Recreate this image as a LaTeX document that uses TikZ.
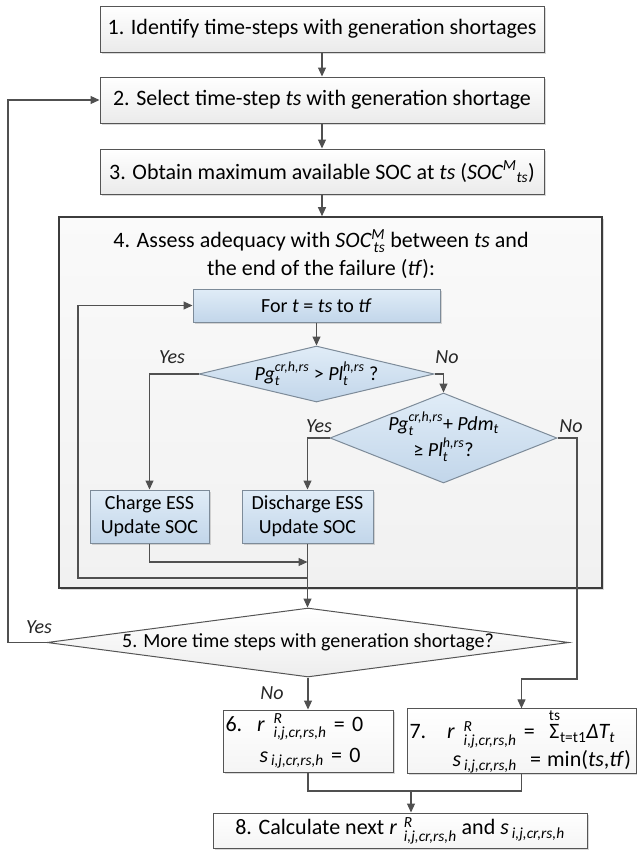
\documentclass[tikz,border=0pt]{standalone}
\usepackage{amsmath}
\usepackage{fontspec}
\setmainfont{Carlito}
\usetikzlibrary{arrows.meta,shapes.geometric,shadows,calc}
\definecolor{ln}{HTML}{505050}
\definecolor{bd}{HTML}{555555}
\definecolor{bdf}{HTML}{3C3C3C}
\definecolor{blt}{HTML}{E0ECF7}
\definecolor{blb}{HTML}{C2D6EA}
\definecolor{bbd}{HTML}{7D8B99}
\newcommand\ii[1]{\text{\itshape #1}}
\newcommand\zw[1]{\makebox[0pt]{#1}}
\tikzset{
  conn/.style={draw=ln, line width=1.1pt},
  arr/.style={conn, -{Triangle[length=9pt,width=8pt]}},
  shad/.style={drop shadow={shadow xshift=1.5pt,shadow yshift=-1.5pt,opacity=0.3}},
  topbox/.style={rectangle, draw=bd, line width=1pt, top color=white, bottom color=gray!16, shad, inner sep=0pt, font=\fontsize{22}{26}\selectfont},
  outerbox/.style={rectangle, draw=bdf, line width=1.6pt, top color=gray!4, bottom color=gray!11, shad, inner sep=0pt},
  bluebox/.style={rectangle, draw=bbd, line width=1pt, top color=blt, bottom color=blb, shad, inner sep=0pt, align=center, font=\fontsize{20}{24}\selectfont},
  bluedia/.style={diamond, draw=bbd, line width=1pt, top color=blt, bottom color=blb, inner sep=0pt, font=\fontsize{20}{24}\selectfont},
  greydia/.style={diamond, draw=bd, line width=1pt, top color=white, bottom color=gray!14, inner sep=0pt, font=\fontsize{20}{24}\selectfont},
  wbox/.style={rectangle, draw=bd, line width=1pt, top color=white, bottom color=gray!8, shad, inner sep=0pt, font=\fontsize{22}{26}\selectfont},
  yn/.style={font=\fontsize{20}{24}\selectfont\itshape, text=black!85, inner sep=0pt},
  ttl/.style={font=\fontsize{22}{28}\selectfont, align=center, inner sep=0pt}
}
\begin{document}
\begin{tikzpicture}[x=1pt,y=-1pt]
\useasboundingbox (0,0) rectangle (637,852);
% top boxes
\node[topbox, minimum width=444pt, minimum height=46pt] (b1) at (322,29) {1. Identify time-steps with generation shortages};
\node[topbox, minimum width=444pt, minimum height=46pt] (b2) at (322,100) {2. Select time-step \textit{ts} with generation shortage};
\node[topbox, minimum width=444pt, minimum height=45pt] (b3) at (322,171.5) {3. Obtain maximum available SOC at \textit{ts} (\(\ii{SOC}^{\ii{M}}{}_{\ii{ts}}\))};
% block 4
\node[outerbox, minimum width=543pt, minimum height=371pt] (b4) at (330.5,402.5) {};
\node[ttl] (t4) at (321,254) {4. Assess adequacy with \(\ii{SOC}^{\ii{M}}_{\,\ii{ts}}\) between \textit{ts} and\\the end of the failure (\textit{tf}):};
\node[bluebox, minimum width=247pt, minimum height=33pt] (fr) at (316.5,305.5) {For \textit{t} = \textit{ts} to \textit{tf}};
\node[bluedia, minimum width=235pt, minimum height=56pt] (d1) at (316.5,374) {\zw{\(\ii{Pg}_{\ii{t}}^{\ii{cr,h,rs}}\) > \(\ii{Pl}_{\ii{t}}^{\ii{h,rs}}\) ?}};
\node[bluedia, minimum width=227pt, minimum height=90pt] (d2) at (443.5,438) {\zw{\begin{tabular}{@{}c@{}}\(\ii{Pg}_{\ii{t}}^{\ii{cr,h,rs}}\)+ \(\ii{Pdm}_{\ii{t}}\)\\ ≥ \(\ii{Pl}_{\ii{t}}^{\ii{h,rs}}\)?\end{tabular}}};
\node[bluebox, minimum width=119pt, minimum height=53pt] (ch) at (149.5,516.5) {Charge ESS\\Update SOC};
\node[bluebox, minimum width=131pt, minimum height=53pt] (dc) at (307.5,516.5) {Discharge ESS\\Update SOC};
% decision 5
\node[greydia, minimum width=522pt, minimum height=69pt] (d5) at (308,642.5) {\zw{5. More time steps with generation shortage?}};
% results
\node[wbox, minimum width=170pt, minimum height=62pt, text width=165pt, align=left] (b6) at (308,741)
  {6.\hspace{15pt}\(\ii{r}\hspace{9pt}{}^{\ii{R}}_{\ii{i,j,cr,rs,h}}\) = 0\\[5pt]\hspace{34pt}\(\ii{s}\hspace{3pt}{}_{\ii{i,j,cr,rs,h}}\) = 0};
\node[wbox, minimum width=229pt, minimum height=62pt, text width=224pt, align=left] (b7) at (521.5,741)
  {7.\hspace{21pt}\(\ii{r}\hspace{9pt}{}^{\ii{R}}_{\ii{i,j,cr,rs,h}}\) =\hspace{14pt}\(\overset{\text{ts}}{\text{Σ}}{}_{\text{t=t1}}\ii{ΔT}_{\ii{t}}\)\\[2pt]\hspace{43pt}\(\ii{s}\hspace{3pt}{}_{\ii{i,j,cr,rs,h}}\)\hspace{6pt} =\hspace{6pt}min(\textit{ts},\textit{tf})};
\node[wbox, minimum width=374pt, minimum height=35pt] (b8) at (400,830.5)
  {8. Calculate next \(\ii{r}\hspace{7pt}{}^{\ii{R}}_{\ii{i,j,cr,rs,h}}\) and \(\ii{s}\hspace{3pt}{}_{\ii{i,j,cr,rs,h}}\)};
% labels
\node[yn] (y1) at (172,357) {Yes};
\node[yn] (n1) at (447,357) {No};
\node[yn] (y2) at (319,426) {Yes};
\node[yn] (n2l) at (571,426) {No};
\node[yn] (y5l) at (39,627) {Yes};
\node[yn] (n5l) at (272,693) {No};
% coordinates
\coordinate (n2) at (577,679);
\coordinate (m1) at (dc.south |- 0,562);
\coordinate (l1) at (dc.south |- 0,578);
\coordinate (l2) at (78,578);
\coordinate (y5) at (8,642.5);
\coordinate (mg) at (411,791);
% connectors
\draw[arr] (b1) -- (b2);
\draw[arr] (b2) -- (b3);
\draw[arr] (b3.south) -- (b3.south |- b4.north);
\draw[arr] (fr) -- (d1);
\draw[arr] (d1.west) -| (ch.north);
\draw[arr] (d1.east) -| (d2.north);
\draw[arr] (d2.west) -| (dc.north);
\draw[arr] (d2.east) -| (n2) -| (b7.north);
\draw[arr] (ch.south) |- (m1);
\draw[arr] (dc.south) -- (dc.south |- d5.north);
\draw[arr] (l1) -- (l2) |- (fr.west);
\draw[arr] (d5.west) -- (y5) |- (b2.west);
\draw[arr] (d5.south) -- (d5.south |- b6.north);
\draw[conn] (b6.south) |- (mg);
\draw[conn] (b7.south) |- (mg);
\draw[arr] (mg) -- (mg |- b8.north);
\end{tikzpicture}
\end{document}
